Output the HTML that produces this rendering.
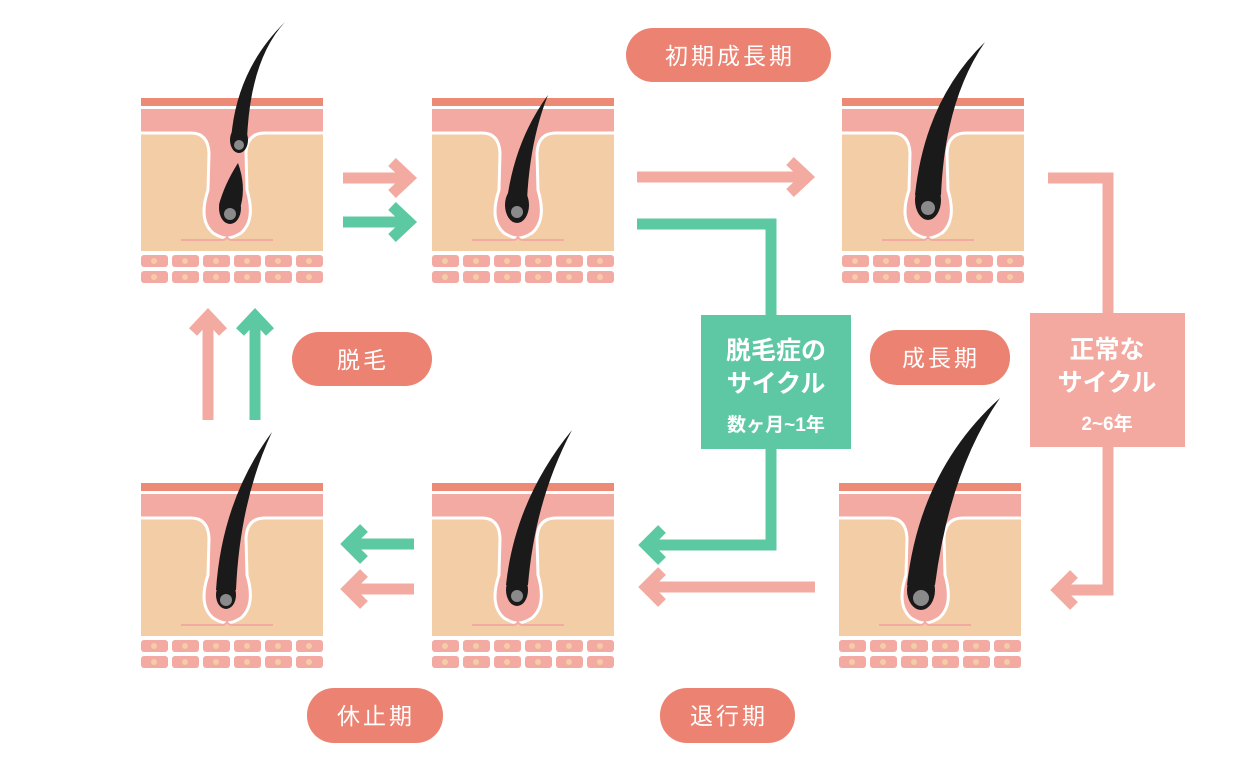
<!DOCTYPE html>
<html><head><meta charset="utf-8"><style>
html,body{margin:0;padding:0;background:#fff}
svg{display:block}
text{font-family:"Liberation Sans","Noto Sans CJK JP",sans-serif;fill:#fff}
</style></head><body>
<svg width="1250" height="776" viewBox="0 0 1250 776" xmlns="http://www.w3.org/2000/svg">
<defs>
<g id="blk">
  <rect x="0" y="0" width="182" height="8" fill="#ec8a76"/>
  <rect x="0" y="11" width="182" height="24" fill="#f3aaa2"/>
  <rect x="0" y="35" width="182" height="118" fill="#f2cda5"/>
  <path d="M0,35 L50,35 Q67,35 68,55 L67,92 Q57,122 72,135 Q80,140 86,140 Q92,140 100,135 Q115,122 106,92 L105,55 Q106,35 124,35 L182,35" fill="#f3aaa2" stroke="#fff" stroke-width="3"/>
  <path d="M40,142 L80,142 Q86,142 86,138 Q86,142 92,142 L132,142" fill="none" stroke="#f3aaa2" stroke-width="2"/>
  <g fill="#f3aaa2">
    <rect x="0" y="157" width="27" height="12" rx="3"/><rect x="31" y="157" width="27" height="12" rx="3"/><rect x="62" y="157" width="27" height="12" rx="3"/><rect x="93" y="157" width="27" height="12" rx="3"/><rect x="124" y="157" width="27" height="12" rx="3"/><rect x="155" y="157" width="27" height="12" rx="3"/>
    <rect x="0" y="173" width="27" height="12" rx="3"/><rect x="31" y="173" width="27" height="12" rx="3"/><rect x="62" y="173" width="27" height="12" rx="3"/><rect x="93" y="173" width="27" height="12" rx="3"/><rect x="124" y="173" width="27" height="12" rx="3"/><rect x="155" y="173" width="27" height="12" rx="3"/>
  </g>
  <g fill="#f2cda5">
    <circle cx="13" cy="163" r="3"/><circle cx="44" cy="163" r="3"/><circle cx="75" cy="163" r="3"/><circle cx="106" cy="163" r="3"/><circle cx="137" cy="163" r="3"/><circle cx="168" cy="163" r="3"/>
    <circle cx="13" cy="179" r="3"/><circle cx="44" cy="179" r="3"/><circle cx="75" cy="179" r="3"/><circle cx="106" cy="179" r="3"/><circle cx="137" cy="179" r="3"/><circle cx="168" cy="179" r="3"/>
  </g>
</g>
</defs>

<use href="#blk" x="141" y="98"/>
<use href="#blk" x="432" y="98"/>
<use href="#blk" x="842" y="98"/>
<use href="#blk" x="141" y="483"/>
<use href="#blk" x="432" y="483"/>
<use href="#blk" x="839" y="483"/>

<!-- hairs -->
<g fill="#1a1a1a">
  <path d="M285,22 Q250,60 247,140 L231,140 Q236,70 285,22 Z"/>
  <ellipse cx="239" cy="140" rx="9" ry="13"/>
  <path d="M238,163 Q246,185 241,205 L219,205 Q224,185 238,163 Z"/>
  <ellipse cx="230" cy="208" rx="11" ry="16"/>

  <path d="M548,95 Q530,140 527,200 L507,200 Q515,140 548,95 Z"/>
  <ellipse cx="517" cy="205" rx="12" ry="18"/>

  <path d="M985,42 Q945,100 941,195 L915,195 Q925,100 985,42 Z"/>
  <ellipse cx="928" cy="200" rx="13" ry="20"/>

  <path d="M1000,398 Q950,470 935,585 L907,585 Q920,470 1000,398 Z"/>
  <ellipse cx="921" cy="590" rx="14" ry="20"/>

  <path d="M572,430 Q535,500 528,585 L506,585 Q515,500 572,430 Z"/>
  <ellipse cx="517" cy="590" rx="11" ry="16"/>

  <path d="M272,432 Q240,500 236,590 L216,590 Q222,500 272,432 Z"/>
  <ellipse cx="226" cy="595" rx="10" ry="14"/>
</g>
<g fill="#8a8a8a">
  <circle cx="239" cy="145" r="5"/><circle cx="230" cy="214" r="6"/>
  <circle cx="517" cy="212" r="6"/><circle cx="928" cy="208" r="7"/>
  <circle cx="921" cy="598" r="8"/><circle cx="517" cy="596" r="6"/><circle cx="226" cy="600" r="6"/>
</g>

<!-- arrows -->
<g fill="none" stroke-width="11" stroke-linejoin="miter" stroke-miterlimit="10">
  <g stroke="#f3aaa0">
    <line x1="343" y1="178" x2="408" y2="178"/><polyline points="392,162 409,178 392,194"/>
    <line x1="637" y1="177" x2="806" y2="177"/><polyline points="790,161 807,177 790,193"/>
    <polyline points="1048,178 1108,178 1108,590 1058,590"/><polyline points="1074,574 1058,590 1074,606"/>
    <line x1="815" y1="587" x2="646" y2="587"/><polyline points="662,571 646,587 662,603"/>
    <line x1="414" y1="589" x2="348" y2="589"/><polyline points="364,573 348,589 364,605"/>
    <line x1="208" y1="420" x2="208" y2="316"/><polyline points="193,332 208,316 223,332"/>
  </g>
  <g stroke="#5cc9a2">
    <line x1="343" y1="222" x2="408" y2="222"/><polyline points="392,206 409,222 392,238"/>
    <polyline points="637,224 771,224 771,545 646,545"/><polyline points="662,529 646,545 662,561"/>
    <line x1="414" y1="544" x2="348" y2="544"/><polyline points="364,528 348,544 364,560"/>
    <line x1="255" y1="420" x2="255" y2="316"/><polyline points="240,332 255,316 270,332"/>
  </g>
</g>

<!-- boxes -->
<rect x="701" y="315" width="150" height="134" fill="#5ec8a4"/>
<text x="776" y="359" font-size="25" font-weight="bold" text-anchor="middle">脱毛症の</text>
<text x="776" y="392" font-size="25" font-weight="bold" text-anchor="middle">サイクル</text>
<text x="776" y="431" font-size="19" font-weight="bold" text-anchor="middle">数ヶ月~1年</text>

<rect x="1030" y="313" width="155" height="134" fill="#f3a8a0"/>
<text x="1107" y="358" font-size="25" font-weight="bold" text-anchor="middle">正常な</text>
<text x="1107" y="391" font-size="25" font-weight="bold" text-anchor="middle">サイクル</text>
<text x="1107" y="430" font-size="19" font-weight="bold" text-anchor="middle">2~6年</text>

<!-- pills -->
<g fill="#ec8271">
  <rect x="626" y="28" width="205" height="54" rx="27"/>
  <rect x="292" y="332" width="140" height="54" rx="27"/>
  <rect x="870" y="330" width="140" height="55" rx="27"/>
  <rect x="307" y="688" width="136" height="55" rx="27"/>
  <rect x="660" y="688" width="135" height="55" rx="27"/>
</g>
<g font-size="23" text-anchor="middle" letter-spacing="3">
  <text x="730" y="64">初期成長期</text>
  <text x="363" y="368">脱毛</text>
  <text x="941" y="366">成長期</text>
  <text x="376" y="724">休止期</text>
  <text x="729" y="724">退行期</text>
</g>
</svg>
</body></html>
